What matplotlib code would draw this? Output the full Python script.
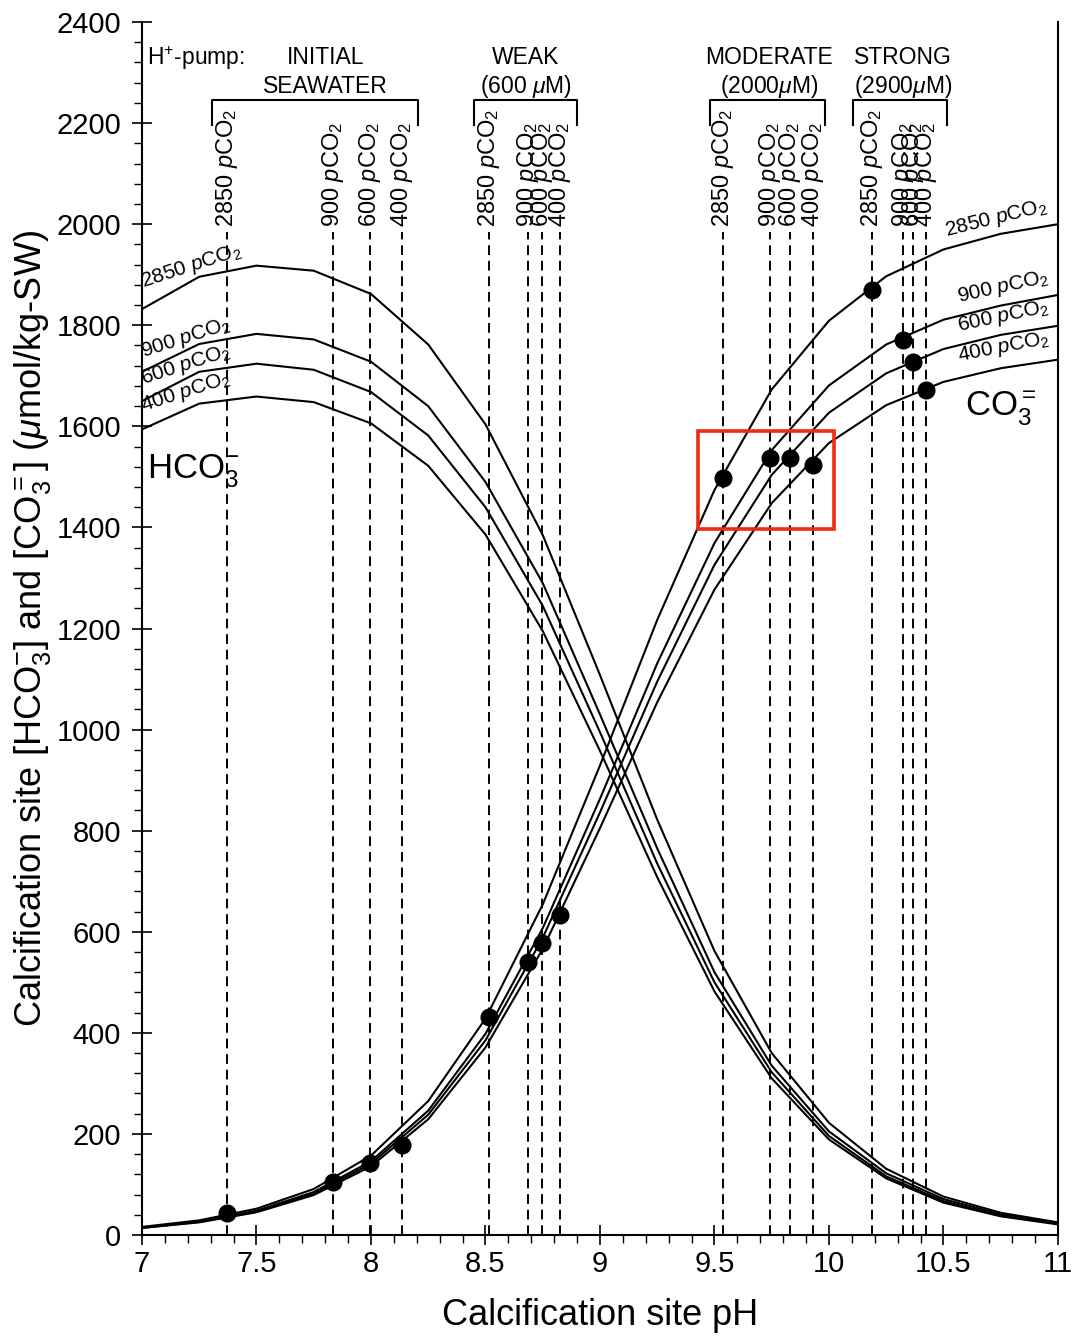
import matplotlib.pyplot as plt
from matplotlib.patches import Rectangle
from matplotlib.ticker import MultipleLocator

plt.rcParams['font.family'] = ['Liberation Sans', 'DejaVu Sans']
plt.rcParams['mathtext.fontset'] = 'custom'
plt.rcParams['mathtext.rm'] = 'Liberation Sans'
plt.rcParams['mathtext.it'] = 'Liberation Sans:italic'

# pH grid of the model curves
ph = [7.0, 7.25, 7.5, 7.75, 8.0, 8.25, 8.5, 8.75, 9.0, 9.25, 9.5, 9.75,
      10.0, 10.25, 10.5, 10.75, 11.0]

# HCO3- curves (umol/kg-SW)
hco3_2850 = [1832, 1896, 1918, 1908, 1862, 1762, 1604, 1385, 1108, 822, 562,
             360, 222, 131, 76, 44, 25]
hco3_900 = [1708, 1763, 1783, 1772, 1728, 1640, 1490, 1290, 1030, 765, 520,
            335, 205, 122, 71, 41, 24]
hco3_600 = [1650, 1708, 1724, 1712, 1668, 1582, 1440, 1245, 995, 735, 500,
            322, 196, 116, 67, 38, 22]
hco3_400 = [1594, 1645, 1659, 1648, 1606, 1522, 1386, 1195, 958, 708, 482,
            310, 189, 112, 64, 37, 21]

# CO3= curves (umol/kg-SW)
co3_2850 = [16, 29, 52, 91, 157, 265, 428, 654, 929, 1217, 1474, 1673, 1809,
            1897, 1950, 1981, 2000]
co3_900 = [15, 27, 48, 85, 146, 246, 398, 607, 863, 1131, 1369, 1553, 1681,
           1762, 1811, 1839, 1860]
co3_600 = [14, 26, 46, 82, 141, 238, 385, 588, 836, 1095, 1326, 1504, 1627,
           1705, 1753, 1781, 1799]
co3_400 = [14, 25, 45, 79, 136, 229, 371, 566, 805, 1054, 1277, 1448, 1567,
           1642, 1688, 1715, 1732]

# calcification site pH per H+-pump strength (2850, 900, 600, 400 pCO2)
ph_initial = [7.37, 7.836, 7.996, 8.137]
ph_weak = [8.517, 8.684, 8.747, 8.825]
ph_moderate = [9.538, 9.742, 9.83, 9.931]
ph_strong = [10.186, 10.325, 10.369, 10.424]

co3_initial = [44, 105, 142, 178]
co3_weak = [432, 541, 577, 633]
co3_moderate = [1497, 1537, 1537, 1523]
co3_strong = [1870, 1771, 1728, 1672]

pco2_labels = ['2850', '900', '600', '400']
pump_top = ['INITIAL', 'WEAK', 'MODERATE', 'STRONG']
pump_bottom = ['SEAWATER', '(600 $\\mu$M)', '(2000$\\mu$M)', '(2900$\\mu$M)']
pump_ph = [ph_initial, ph_weak, ph_moderate, ph_strong]
pump_co3 = [co3_initial, co3_weak, co3_moderate, co3_strong]

fig = plt.figure(figsize=(10.78, 13.36), dpi=100)
ax = fig.add_axes([0.1317, 0.0756, 0.8497, 0.9079])

# curves
for hc, co in [(hco3_2850, co3_2850), (hco3_900, co3_900),
               (hco3_600, co3_600), (hco3_400, co3_400)]:
    ax.plot(ph, hc, color='black', lw=1.5, zorder=3)
    ax.plot(ph, co, color='black', lw=1.5, zorder=3)

# dashed lines, vertical labels and points
for xs, ys in zip(pump_ph, pump_co3):
    for x, lab in zip(xs, pco2_labels):
        ax.plot([x, x], [0, 1985], color='black', lw=1.4,
                ls=(0, (5, 3)), zorder=2)
        ax.text(x, 1995, lab + ' $p$CO$_2$', rotation=90, ha='center',
                va='bottom', fontsize=17)
    ax.plot(xs, ys, 'o', color='black', ms=12, zorder=5)

# brackets and pump labels
brackets = [(7.306, 8.205), (8.45, 8.9), (9.48, 9.983), (10.105, 10.515)]
label_x = [7.80, 8.675, 9.74, 10.323]
for (x0, x1), xc, top, bottom in zip(brackets, label_x, pump_top,
                                      pump_bottom):
    ax.plot([x0, x0, x1, x1], [2196, 2246, 2246, 2196], color='black',
            lw=1.5, clip_on=False)
    ax.text(xc, 2273, bottom, ha='center', va='center', fontsize=16.5)
    ax.text(xc, 2329, top, ha='center', va='center', fontsize=16.5)
ax.text(7.02, 2329, 'H$^{+}$-pump:', ha='left', va='center', fontsize=16.5)

# curve labels, left
for y, lab in zip([1864, 1725, 1672, 1618], pco2_labels):
    ax.text(7.012, y, lab + ' $p$CO$_2$', rotation=18, rotation_mode='anchor',
            ha='left', va='bottom', fontsize=15)
# curve labels, right
for x, y, rot, lab in zip([10.52, 10.572, 10.572, 10.572],
                          [1965, 1834, 1777, 1717], [14, 12.5, 12, 11],
                          pco2_labels):
    ax.text(x, y, lab + ' $p$CO$_2$', rotation=rot, rotation_mode='anchor',
            ha='left', va='bottom', fontsize=15)

ax.text(7.02, 1497, 'HCO$_3^{-}$', fontsize=25, ha='left', va='baseline')
ax.text(10.595, 1620, 'CO$_3^{=}$', fontsize=25, ha='left', va='baseline')

# highlighted moderate region
ax.add_patch(Rectangle((9.428, 1397), 0.594, 194, fill=False,
                       edgecolor='#ee2a12', lw=2.6, zorder=6))

ax.set_xlim(7, 11)
ax.set_ylim(0, 2400)
ax.xaxis.set_major_locator(MultipleLocator(0.5))
ax.xaxis.set_minor_locator(MultipleLocator(0.1))
ax.yaxis.set_major_locator(MultipleLocator(200))
ax.yaxis.set_minor_locator(MultipleLocator(40))
ax.xaxis.set_major_formatter(plt.FuncFormatter(lambda v, p: f'{v:g}'))
ax.tick_params(which='major', direction='inout', length=14, width=1.2,
               labelsize=21)
ax.tick_params(which='minor', direction='out', length=6, width=1.0)
ax.tick_params(axis='y', which='major', pad=8)
ax.tick_params(axis='x', which='major', pad=4)
ax.tick_params(right=False, top=False)
ax.spines['top'].set_visible(False)
for s in ['left', 'bottom', 'right']:
    ax.spines[s].set_linewidth(1.5)

ax.set_xlabel('Calcification site pH', fontsize=26, labelpad=14)
ax.set_ylabel('Calcification site [HCO$_3^{-}$] and [CO$_3^{=}$] '
              '($\\mu$mol/kg-SW)', fontsize=26, labelpad=2)

fig.savefig('out.png', dpi=100)
